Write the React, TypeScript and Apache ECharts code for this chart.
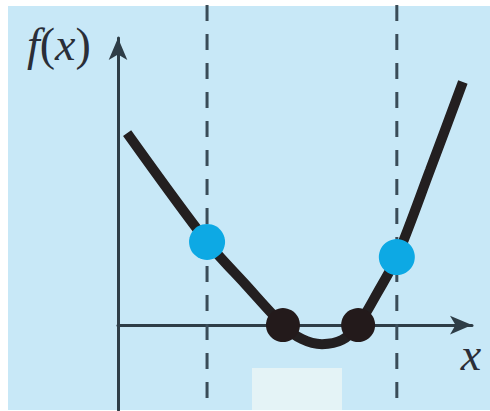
import React, { useEffect, useRef } from "react";
import * as echarts from "echarts";

// Curve f(x) (axis units)
const curveX = [0.25, 2.44, 3.48, 4.52, 5.04, 5.59, 6.14, 6.58, 7.12, 7.64, 8.55, 9.45];
const curveY = [6.44, 2.79, 1.38, 0, -0.47, -0.64, -0.5, 0, 1.11, 2.28, 5.2, 8.15];
// Roots (black dots)
const rootX = [4.52, 6.58];
const rootY = [0, 0];
// Bracket points (blue dots) on dashed guides
const bracketX = [2.44, 7.64];
const bracketY = [2.79, 2.28];
// Dashed guides span
const guideTop = 10.74;
const guideBottom = -2.85;
// Axis labels
const yLabelParts = ["f", "(", "x", ")"];
const xLabel = "x";

const X_MIN = 0;
const X_MAX = 9.7;
const Y_MIN = -2.85;
const Y_MAX = 9.63;

export default function App() {
  const ref = useRef<HTMLDivElement>(null);

  useEffect(() => {
    if (!ref.current) return;
    const chart = echarts.init(ref.current, null, { renderer: "svg" });

    const curve = curveX.map((x, i) => [x, curveY[i]]);
    const roots = rootX.map((x, i) => [x, rootY[i]]);
    const brackets = bracketX.map((x, i) => [x, bracketY[i]]);
    const guides = bracketX.map((x) => ({
      type: "line",
      data: [
        [x, guideTop],
        [x, guideBottom],
      ],
      clip: false,
      symbol: "none",
      silent: true,
      z: 1,
      lineStyle: { color: "#3a4c58", width: 3, type: [16, 13] },
    }));

    const axisLine = {
      show: true,
      onZero: true,
      symbol: ["none", "arrow"],
      symbolSize: [14, 22],
      lineStyle: { color: "#2e3d47", width: 3 },
    };

    const fontFamily = "'Liberation Serif', 'DejaVu Serif', serif";

    chart.setOption({
      animation: false,
      backgroundColor: "transparent",
      grid: { left: 118, right: 18, top: 38, bottom: 1 },
      xAxis: {
        type: "value",
        min: X_MIN,
        max: X_MAX,
        axisLine,
        axisTick: { show: false },
        axisLabel: { show: false },
        splitLine: { show: false },
      },
      yAxis: {
        type: "value",
        min: Y_MIN,
        max: Y_MAX,
        axisLine,
        axisTick: { show: false },
        axisLabel: { show: false },
        splitLine: { show: false },
      },
      graphic: [
        {
          type: "rect",
          shape: { x: 252, y: 368, width: 90, height: 42 },
          style: { fill: "#E4F3F6" },
          silent: true,
          z: -1,
        },
        {
          type: "text",
          x: 27,
          y: 44,
          style: {
            text:
              "{i|" + yLabelParts[0] + "}{r|" + yLabelParts[1] + "}{i|" + yLabelParts[2] + "}{r|" + yLabelParts[3] + "}",
            verticalAlign: "middle",
            align: "left",
            rich: {
              i: { fontSize: 46, fontStyle: "italic", fontFamily, fill: "#2a2e38" },
              r: { fontSize: 46, fontFamily, fill: "#2a2e38" },
            },
          },
        },
        {
          type: "text",
          x: 471,
          y: 354,
          style: {
            text: xLabel,
            fontSize: 46,
            fontStyle: "italic",
            fontFamily,
            fill: "#2a2e38",
            align: "center",
            verticalAlign: "middle",
          },
        },
      ],
      series: [
        ...guides,
        {
          type: "line",
          data: curve,
          smooth: 0.3,
          symbol: "none",
          clip: false,
          z: 3,
          lineStyle: { color: "#231f20", width: 10, cap: "butt" },
        },
        {
          type: "scatter",
          data: brackets,
          symbolSize: 36,
          z: 4,
          itemStyle: { color: "#0DA9E4", opacity: 1 },
        },
        {
          type: "scatter",
          data: roots,
          symbolSize: 34,
          z: 4,
          itemStyle: { color: "#231a1b", opacity: 1 },
        },
      ],
    });

    return () => chart.dispose();
  }, []);

  return (
    <div style={{ position: "fixed", left: 0, top: 0, width: 490, height: 411, background: "#ffffff" }}>
      <div
        style={{ position: "absolute", left: 8, top: 6, width: 482, height: 404, background: "#C8E8F7" }}
      />
      <div ref={ref} style={{ position: "absolute", left: 0, top: 0, width: 490, height: 411 }} />
    </div>
  );
}
